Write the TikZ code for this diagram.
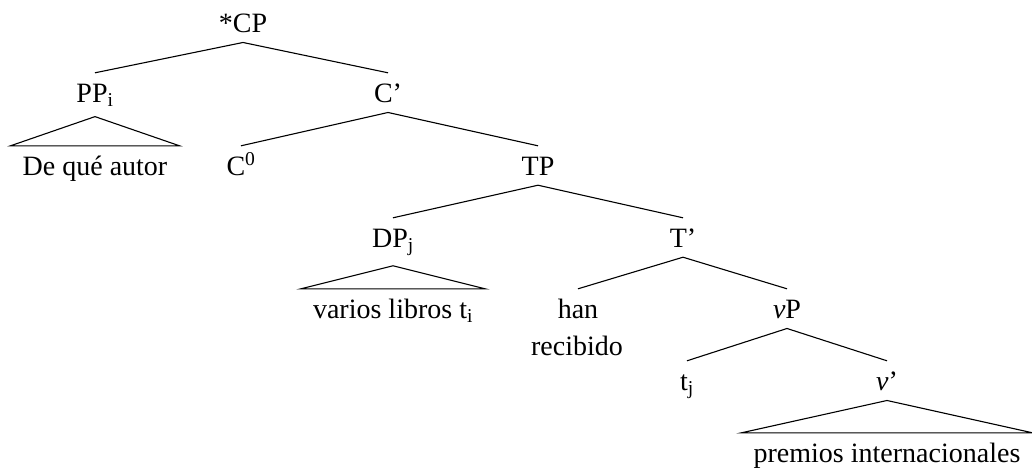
\documentclass[tikz,border=0pt]{standalone}
\usepackage{fontspec}
\setmainfont{Liberation Serif}
\begin{document}
\begin{tikzpicture}[x=1pt,y=-1pt,
  lab/.style={anchor=base, font=\fontsize{28}{32}\selectfont, text height=19pt, inner ysep=10pt, inner xsep=0pt},
  leaf/.style={lab, inner xsep=12pt},
  edge/.style={line width=1.1pt},
]
\useasboundingbox (0,0) rectangle (1032,467);
\node[lab] (cp) at (243,32) {*CP};
\node[lab] (pp) at (95,102) {PP\textsubscript{i}};
\node[lab] (cbar) at (388,102) {C’};
\node[leaf] (deq) at (95,175) {De qué autor};
\node[lab] (c0) at (241,175) {C\textsuperscript{0}};
\node[lab] (tp) at (538,175) {TP};
\node[lab] (dp) at (393,247) {DP\textsubscript{j}};
\node[lab] (tbar) at (683,247) {T’};
\node[leaf] (varios) at (393,318) {varios libros t\textsubscript{i}};
\node[lab] (han) at (578,318) {han};
\node[lab] (recibido) at (577,355) {recibido};
\node[lab] (vp) at (787,318) {\textit{v}P};
\node[lab] (tj) at (687,390) {t\textsubscript{j}};
\node[lab] (vbar) at (887,390) {\textit{v}’};
\node[leaf] (premios) at (887,462) {premios internacionales};

\draw[edge] (cp.south) -- (pp.north);
\draw[edge] (cp.south) -- (cbar.north);
\draw[edge] (cbar.south) -- (c0.north);
\draw[edge] (cbar.south) -- (tp.north);
\draw[edge] (tp.south) -- (dp.north);
\draw[edge] (tp.south) -- (tbar.north);
\draw[edge] (tbar.south) -- (han.north);
\draw[edge] (tbar.south) -- (vp.north);
\draw[edge] (vp.south) -- (tj.north);
\draw[edge] (vp.south) -- (vbar.north);
\draw[edge] (deq.north west) -- (pp.south) -- (deq.north east) -- cycle;
\draw[edge] (varios.north west) -- (dp.south) -- (varios.north east) -- cycle;
\draw[edge] (premios.north west) -- (vbar.south) -- (premios.north east) -- cycle;
\end{tikzpicture}
\end{document}
